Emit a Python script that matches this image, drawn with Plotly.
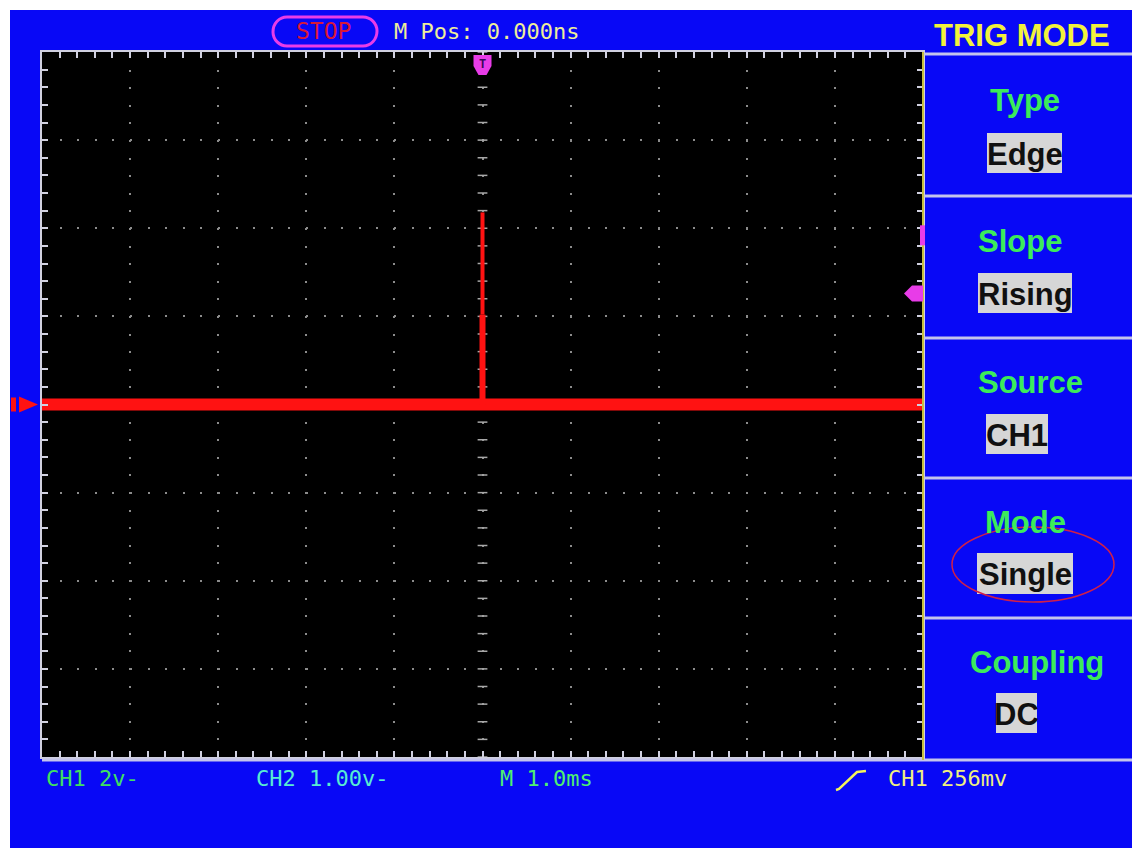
import plotly.graph_objects as go

time_div = [-5.0, 5.0]                 # CH1 trace span, 1.0 ms/div, 10 divisions
ch1_level_div = [0.0, 0.0]             # CH1 baseline level (divisions)
spike_time_div = [0.0, 0.0, 0.0]       # glitch captured at trigger point
spike_level_div = [0.0, 1.02, 2.18]    # base, top of thick part, tip
trig_level_div = 1.26                  # trigger level pointer (right edge)
ch2_marker_div = 1.92                  # small magenta marker on right edge
trig_pos_div = 0.0                     # horizontal trigger position
ch1_offset_div = 0.0                   # CH1 ground pointer (left edge)

menu_titles = ["Type", "Slope", "Source", "Mode", "Coupling"]
menu_values = ["Edge", "Rising", "CH1", "Single", "DC"]
status_labels = ["CH1 2v-", "CH2 1.00v-", "M 1.0ms", "CH1 256mv"]
run_state = "STOP"
mpos_label = "M Pos: 0.000ns"
menu_header = "TRIG MODE"

# ---------------- layout helpers (pixel geometry) ----------------
W, H = 1132, 852
PL, PR, PT, PB = 42, 923, 52, 757


def X(px):
    return (px - PL) / (PR - PL)


def Y(py):
    return (PB - py) / (PB - PT)


def ypx(v):
    return PB - (v + 4.0) / 8.0 * (PB - PT)


def xpx(v):
    return PL + (v + 5.0) / 10.0 * (PR - PL)


def path(points, close=True):
    s = "M " + " L ".join(f"{X(a):.5f},{Y(b):.5f}" for a, b in points)
    return s + (" Z" if close else "")


BLUE = "#0808f6"
GRID = "#8c8c8c"
BORDER = "#d0d0e0"
RED = "#ff1212"
MAG = "#e83ce8"
GREEN = "#3ceb5a"
SEP = "#c4c4ec"
MONO = "DejaVu Sans Mono, Liberation Mono, monospace"
SANS = "Liberation Sans, Arial, sans-serif"

fig = go.Figure()

# centre-line graticule marks
center_steps_y = [round(-4 + 0.2 * i, 1) for i in range(41)]
center_steps_x = [round(-5 + 0.2 * i, 1) for i in range(51)]
fig.add_trace(go.Scatter(
    x=[0.0] * len(center_steps_y), y=center_steps_y, mode="markers",
    marker=dict(symbol="line-ew", size=7, line=dict(width=1.5, color="#a8a8a8")),
    hoverinfo="skip", showlegend=False))
fig.add_trace(go.Scatter(
    x=center_steps_x, y=[0.0] * len(center_steps_x), mode="markers",
    marker=dict(symbol="line-ns", size=7, line=dict(width=1.5, color="#a8a8a8")),
    hoverinfo="skip", showlegend=False))

# CH1 trace
fig.add_trace(go.Scatter(x=time_div, y=ch1_level_div, mode="lines",
                         line=dict(color=RED, width=12), showlegend=False))
fig.add_trace(go.Scatter(x=spike_time_div[:2], y=spike_level_div[:2], mode="lines",
                         line=dict(color=RED, width=6), showlegend=False))
fig.add_trace(go.Scatter(x=spike_time_div[1:], y=spike_level_div[1:], mode="lines",
                         line=dict(color=RED, width=4), showlegend=False))

shapes = []
# white frame around the screen
for x0, y0, x1, y1 in [(0, 0, 10, H), (0, 0, W, 10), (0, 848, W, H)]:
    shapes.append(dict(type="rect", xref="paper", yref="paper", layer="below",
                       x0=X(x0), x1=X(x1), y0=Y(y1), y1=Y(y0),
                       fillcolor="white", line=dict(width=0)))
# menu separators
for yy in [54, 196, 338, 478, 618]:
    shapes.append(dict(type="line", xref="paper", yref="paper",
                       x0=X(PR + 1), x1=X(W), y0=Y(yy), y1=Y(yy),
                       line=dict(color=SEP, width=3)))
shapes.append(dict(type="line", xref="paper", yref="paper",
                   x0=X(PL), x1=X(W), y0=Y(760), y1=Y(760),
                   line=dict(color=SEP, width=3)))
# yellow right edge of screen
shapes.append(dict(type="line", xref="paper", yref="paper",
                   x0=X(PR), x1=X(PR), y0=Y(PT), y1=Y(760),
                   line=dict(color="#c8c040", width=2)))
# STOP capsule
sx0, sx1, sy0, sy1, r = 273, 377, 17, 46, 14
k = 0.55 * r
stop_path = (f"M {X(sx0 + r)},{Y(sy0)} L {X(sx1 - r)},{Y(sy0)} "
             f"C {X(sx1 - r + k)},{Y(sy0)} {X(sx1)},{Y(sy0 + r - k)} {X(sx1)},{Y(sy0 + r)} "
             f"C {X(sx1)},{Y(sy1 - r + k)} {X(sx1 - r + k)},{Y(sy1)} {X(sx1 - r)},{Y(sy1)} "
             f"L {X(sx0 + r)},{Y(sy1)} "
             f"C {X(sx0 + r - k)},{Y(sy1)} {X(sx0)},{Y(sy1 - r + k)} {X(sx0)},{Y(sy1 - r)} "
             f"C {X(sx0)},{Y(sy0 + r - k)} {X(sx0 + r - k)},{Y(sy0)} {X(sx0 + r)},{Y(sy0)} Z")
shapes.append(dict(type="path", xref="paper", yref="paper", path=stop_path,
                   line=dict(color=MAG, width=3)))
# grey value boxes
value_boxes = [(987, 133, 1062, 173), (978, 273, 1072, 313), (986, 414, 1048, 454),
               (977, 553, 1073, 594), (996, 693, 1037, 733)]
for x0, y0, x1, y1 in value_boxes:
    shapes.append(dict(type="rect", xref="paper", yref="paper",
                       x0=X(x0), x1=X(x1), y0=Y(y1), y1=Y(y0),
                       fillcolor="#d6d6d6", line=dict(width=0)))
# red ellipse around "Single"
shapes.append(dict(type="circle", xref="paper", yref="paper",
                   x0=X(952), x1=X(1114), y0=Y(602), y1=Y(527),
                   line=dict(color="#d02048", width=1.5)))
# rising-edge symbol
shapes.append(dict(type="path", xref="paper", yref="paper",
                   path=path([(836, 790), (839, 789), (857, 772), (866, 771)], close=False),
                   line=dict(color="#f4f45a", width=2.5)))
# CH1 ground pointer (left)
cy = ypx(ch1_offset_div)
shapes.append(dict(type="rect", xref="paper", yref="paper",
                   x0=X(11), x1=X(16), y0=Y(cy + 7), y1=Y(cy - 7),
                   fillcolor=RED, line=dict(width=0)))
shapes.append(dict(type="path", xref="paper", yref="paper",
                   path=path([(19, cy - 8), (38, cy), (19, cy + 8)]),
                   fillcolor=RED, line=dict(width=0)))
# trigger level pointer (right)
ty = ypx(trig_level_div)
shapes.append(dict(type="path", xref="paper", yref="paper",
                   path=path([(PR - 19, ty), (PR - 11, ty - 8), (PR, ty - 8), (PR, ty + 8), (PR - 11, ty + 8)]),
                   fillcolor=MAG, line=dict(width=0)))
# small magenta marker (right)
my = ypx(ch2_marker_div)
shapes.append(dict(type="rect", xref="paper", yref="paper",
                   x0=X(PR - 3), x1=X(PR + 2), y0=Y(my + 10), y1=Y(my - 10),
                   fillcolor=MAG, line=dict(width=0)))
# trigger position pointer (top)
tx = xpx(trig_pos_div)
shapes.append(dict(type="path", xref="paper", yref="paper",
                   path=path([(tx - 9, 55), (tx + 9, 55), (tx + 9, 66), (tx + 4, 75),
                              (tx - 4, 75), (tx - 9, 66)]),
                   fillcolor=MAG, line=dict(width=0)))

ann = []


def text(t, x, y, color, size, family, xanchor="center", bold=False):
    ann.append(dict(text=f"<b>{t}</b>" if bold else t, xref="paper", yref="paper",
                    x=X(x), y=Y(y), xanchor=xanchor, yanchor="middle", showarrow=False,
                    font=dict(color=color, size=size, family=family)))


text(run_state, 323, 31, "#d81838", 23, MONO)
text(mpos_label, 392, 32, "#eeee9a", 22, MONO, xanchor="left")
text(menu_header, 1022, 35, "#f2f23c", 31, SANS, bold=True)
title_pos = [(1025, 100), (1020, 242), (1030, 382), (1025, 522), (1037, 662)]
for t, (x, y) in zip(menu_titles, title_pos):
    text(t, x, y, GREEN, 31, SANS, bold=True)
for t, (x0, y0, x1, y1) in zip(menu_values, value_boxes):
    text(t, (x0 + x1) / 2, (y0 + y1) / 2 + 1, "#101010", 31, SANS, bold=True)
text("T", tx, 64, "#3a0a5a", 12, MONO, bold=True)
status_pos = [(44, "#40e060"), (254, "#58ecd2"), (498, "#50f070"), (886, "#f0f080")]
for t, (x, c) in zip(status_labels, status_pos):
    text(t, x, 778, c, 22, MONO, xanchor="left")

axis_common = dict(showgrid=True, gridcolor=GRID, gridwidth=1.5, griddash="2px,15.6px",
                   zeroline=False, showline=True, linecolor=BORDER, linewidth=2,
                   mirror="ticks", ticks="inside", ticklen=6, tickwidth=1.5,
                   tickcolor=BORDER, showticklabels=False, fixedrange=True,
                   minor=dict(ticks="inside", ticklen=6, tickwidth=1.5,
                              tickcolor=BORDER, showgrid=False))
fig.update_layout(
    width=W, height=H,
    margin=dict(l=PL, r=W - PR, t=PT, b=H - PB, pad=0),
    paper_bgcolor=BLUE, plot_bgcolor="black",
    xaxis=dict(range=[-5, 5], dtick=1, tick0=0, **{**axis_common,
               "minor": {**axis_common["minor"], "dtick": 0.2}}),
    yaxis=dict(range=[-4, 4], dtick=1, tick0=0, **{**axis_common,
               "minor": {**axis_common["minor"], "dtick": 0.2}}),
    shapes=shapes, annotations=ann, showlegend=False,
)

fig.write_html("out.html", config={"displayModeBar": False},
               post_script="document.body.style.margin='0px';document.body.style.overflow='hidden';")
